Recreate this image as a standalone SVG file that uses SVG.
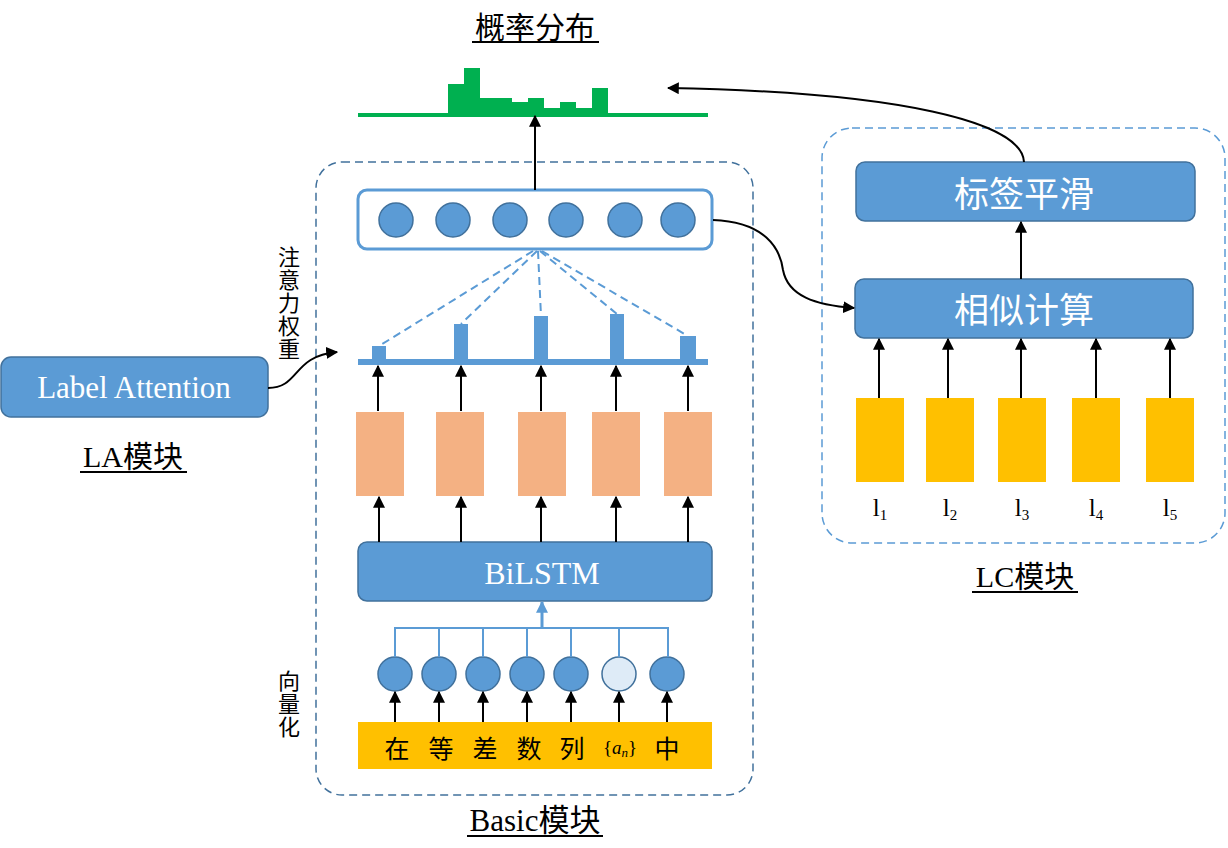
<svg xmlns="http://www.w3.org/2000/svg" width="1228" height="848" viewBox="0 0 1228 848">
<style>
.t{font-family:"Liberation Serif","Noto Sans CJK SC",serif;fill:#000}
.w{font-family:"Liberation Serif","Noto Sans CJK SC",serif;fill:#fff;text-anchor:middle}
.box{fill:#5b9bd5;stroke:#41719c;stroke-width:1.5}
.c{fill:#5b9bd5;stroke:#41719c;stroke-width:1.5}
.ar{stroke:#000;stroke-width:2;fill:none;marker-end:url(#ah)}
.or{fill:#f4b183}
.ye{fill:#ffc000}
.dl{stroke:#5b9bd5;stroke-width:2;stroke-dasharray:8 5;fill:none}
.ul{stroke:#000;stroke-width:2}
.bl{stroke:#5b9bd5;stroke-width:2;fill:none}
</style>
<defs>
<marker id="ah" viewBox="0 0 10 10" refX="9" refY="5" markerWidth="12" markerHeight="12" markerUnits="userSpaceOnUse" orient="auto"><path d="M0,0 L10,5 L0,10 z" fill="#000"/></marker>
<marker id="ahb" viewBox="0 0 10 10" refX="9" refY="5" markerWidth="12" markerHeight="12" markerUnits="userSpaceOnUse" orient="auto"><path d="M0,0 L10,5 L0,10 z" fill="#5b9bd5"/></marker>
</defs>

<g id="title">
<text class="t" x="535" y="38" font-size="30" text-anchor="middle">概率分布</text>
<line class="ul" x1="472" y1="42" x2="599" y2="42"/>
</g>

<g id="histogram" fill="#00b050">
<rect x="358" y="113" width="350" height="4"/>
<rect x="448" y="84" width="16" height="31"/>
<rect x="464" y="68" width="16" height="47"/>
<rect x="480" y="98" width="32" height="17"/>
<rect x="512" y="102" width="16" height="13"/>
<rect x="528" y="98" width="16" height="17"/>
<rect x="544" y="108" width="16" height="7"/>
<rect x="560" y="102" width="16" height="13"/>
<rect x="576" y="108" width="16" height="7"/>
<rect x="592" y="88" width="16" height="27"/>
</g>

<g id="basic-frame">
<rect x="316" y="162" width="437" height="633" rx="26" fill="none" stroke="#41719c" stroke-width="1.5" stroke-dasharray="8 5"/>
</g>

<g id="output-layer">
<rect x="358" y="190" width="354" height="59" rx="9" fill="#fff" stroke="#5b9bd5" stroke-width="3"/>
<circle class="c" cx="396" cy="220" r="17"/>
<circle class="c" cx="453" cy="220" r="17"/>
<circle class="c" cx="510" cy="220" r="17"/>
<circle class="c" cx="566" cy="220" r="17"/>
<circle class="c" cx="625" cy="220" r="17"/>
<circle class="c" cx="678" cy="220" r="17"/>
</g>

<g id="attention-weights" fill="#5b9bd5">
<rect x="358" y="359" width="350" height="6"/>
<rect x="372" y="346" width="14" height="15"/>
<rect x="454" y="324" width="14" height="37"/>
<rect x="534" y="316" width="14" height="45"/>
<rect x="610" y="314" width="14" height="47"/>
<rect x="680" y="336" width="16" height="25"/>
</g>

<g id="lstm-outputs">
<rect class="or" x="356" y="412" width="48" height="84"/>
<rect class="or" x="436" y="412" width="48" height="84"/>
<rect class="or" x="518" y="412" width="48" height="84"/>
<rect class="or" x="592" y="412" width="48" height="84"/>
<rect class="or" x="664" y="412" width="48" height="84"/>
</g>

<g id="bilstm">
<rect class="box" x="358" y="542" width="354" height="59" rx="9"/>
<text class="w" x="542" y="584" font-size="32">BiLSTM</text>
</g>

<g id="embeddings">
<circle class="c" cx="395" cy="674" r="17"/>
<circle class="c" cx="439" cy="674" r="17"/>
<circle class="c" cx="483" cy="674" r="17"/>
<circle class="c" cx="527" cy="674" r="17"/>
<circle class="c" cx="571" cy="674" r="17"/>
<circle cx="619" cy="674" r="17" fill="#deebf7" stroke="#41719c" stroke-width="1.5"/>
<circle class="c" cx="667" cy="674" r="17"/>
</g>

<g id="input-text">
<rect class="ye" x="358" y="722" width="354" height="47"/>
<g class="t" font-size="25" text-anchor="middle">
<text x="397" y="758">在</text>
<text x="441" y="758">等</text>
<text x="485" y="758">差</text>
<text x="529" y="758">数</text>
<text x="572" y="758">列</text>
<text x="667" y="758">中</text>
</g>
<text class="t" x="620" y="754" font-size="19" text-anchor="middle">{<tspan font-style="italic">a</tspan><tspan font-style="italic" font-size="13" dy="3">n</tspan><tspan dy="-3">}</tspan></text>
</g>

<g id="side-labels" class="t" font-size="22" text-anchor="middle">
<text x="289" y="265">注</text>
<text x="289" y="288">意</text>
<text x="289" y="311">力</text>
<text x="289" y="334">权</text>
<text x="289" y="357">重</text>
<text x="289" y="689">向</text>
<text x="289" y="712">量</text>
<text x="289" y="735">化</text>
</g>

<g id="label-attention">
<rect class="box" x="1" y="357" width="267" height="60" rx="10"/>
<text class="w" x="134" y="398" font-size="31">Label Attention</text>
</g>

<g id="la-title">
<text class="t" x="133" y="467" font-size="30" text-anchor="middle">LA模块</text>
<line class="ul" x1="80" y1="472" x2="187" y2="472"/>
</g>

<g id="lc-frame">
<rect x="822" y="128" width="403" height="415" rx="30" fill="none" stroke="#5b9bd5" stroke-width="1.5" stroke-dasharray="8 5"/>
</g>

<g id="label-smoothing">
<rect class="box" x="856" y="162" width="339" height="59" rx="9"/>
<text class="w" x="1024" y="207" font-size="35">标签平滑</text>
</g>

<g id="similarity">
<rect class="box" x="855" y="279" width="338" height="59" rx="9"/>
<text class="w" x="1024" y="323" font-size="35">相似计算</text>
</g>

<g id="labels">
<rect class="ye" x="856" y="398" width="48" height="84"/>
<rect class="ye" x="926" y="398" width="48" height="84"/>
<rect class="ye" x="998" y="398" width="48" height="84"/>
<rect class="ye" x="1072" y="398" width="48" height="84"/>
<rect class="ye" x="1146" y="398" width="48" height="84"/>
<g class="t" font-size="25" text-anchor="middle">
<text x="880" y="516">l<tspan font-size="15" dy="4">1</tspan></text>
<text x="950" y="516">l<tspan font-size="15" dy="4">2</tspan></text>
<text x="1022" y="516">l<tspan font-size="15" dy="4">3</tspan></text>
<text x="1096" y="516">l<tspan font-size="15" dy="4">4</tspan></text>
<text x="1170" y="516">l<tspan font-size="15" dy="4">5</tspan></text>
</g>
</g>

<g id="lc-title">
<text class="t" x="1025" y="587" font-size="30" text-anchor="middle">LC模块</text>
<line class="ul" x1="972" y1="592" x2="1078" y2="592"/>
</g>

<g id="basic-title">
<text class="t" x="535" y="831" font-size="31" text-anchor="middle">Basic模块</text>
<line class="ul" x1="467" y1="836" x2="603" y2="836"/>
</g>

<g id="connectors">
<line class="ar" x1="535" y1="190" x2="535" y2="116"/>
<path class="dl" d="M533,251 L379,346"/>
<path class="dl" d="M537,251 L461,324"/>
<path class="dl" d="M538,251 L541,316"/>
<path class="dl" d="M540,251 L617,314"/>
<path class="dl" d="M542,251 L688,336"/>
<line class="ar" x1="378" y1="411" x2="378" y2="366"/>
<line class="ar" x1="461" y1="411" x2="461" y2="366"/>
<line class="ar" x1="541" y1="411" x2="541" y2="366"/>
<line class="ar" x1="616" y1="411" x2="616" y2="366"/>
<line class="ar" x1="688" y1="411" x2="688" y2="366"/>
<line class="ar" x1="379" y1="542" x2="379" y2="497"/>
<line class="ar" x1="461" y1="542" x2="461" y2="497"/>
<line class="ar" x1="541" y1="542" x2="541" y2="497"/>
<line class="ar" x1="616" y1="542" x2="616" y2="497"/>
<line class="ar" x1="688" y1="542" x2="688" y2="497"/>
<path class="bl" d="M395,657 V628 H668 V657 M439,628 V657 M483,628 V657 M527,628 V657 M571,628 V657 M619,628 V657"/>
<line x1="542" y1="628" x2="542" y2="602" stroke="#5b9bd5" stroke-width="3" marker-end="url(#ahb)"/>
<line class="ar" x1="395" y1="722" x2="395" y2="692"/>
<line class="ar" x1="439" y1="722" x2="439" y2="692"/>
<line class="ar" x1="483" y1="722" x2="483" y2="692"/>
<line class="ar" x1="527" y1="722" x2="527" y2="692"/>
<line class="ar" x1="571" y1="722" x2="571" y2="692"/>
<line class="ar" x1="619" y1="722" x2="619" y2="692"/>
<line class="ar" x1="667" y1="722" x2="667" y2="692"/>
<path class="ar" d="M268,388 C300,388 292,356 337,352"/>
<path class="ar" d="M713,220 C765,222 780,248 783,270 C788,296 815,305 854,308"/>
<path class="ar" d="M1024,162 C1022,122 900,92 668,88"/>
<line class="ar" x1="1021" y1="279" x2="1021" y2="222"/>
<line class="ar" x1="879" y1="398" x2="879" y2="339"/>
<line class="ar" x1="948" y1="398" x2="948" y2="339"/>
<line class="ar" x1="1021" y1="398" x2="1021" y2="339"/>
<line class="ar" x1="1096" y1="398" x2="1096" y2="339"/>
<line class="ar" x1="1170" y1="398" x2="1170" y2="339"/>
</g>
</svg>
